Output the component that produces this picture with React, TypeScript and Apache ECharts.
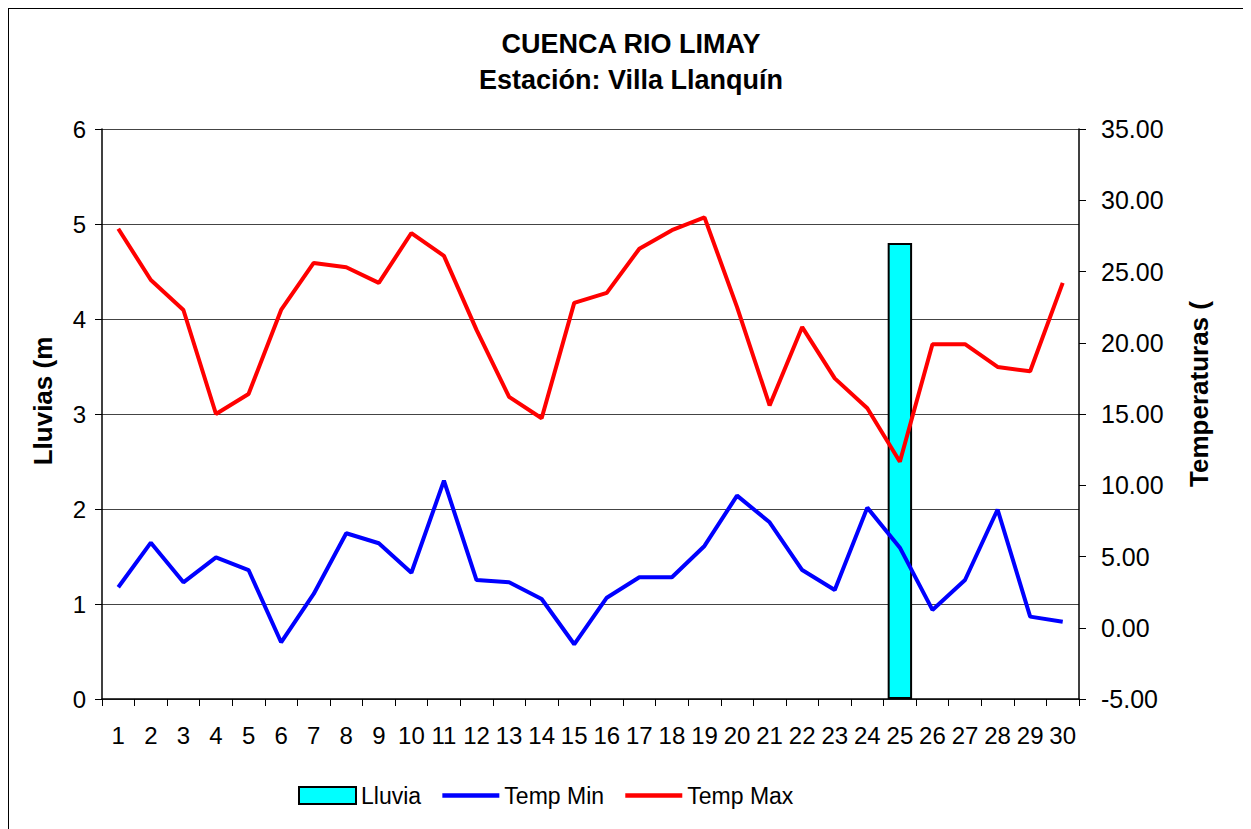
import React, { useEffect, useRef } from "react";
import * as echarts from "echarts";

const days = ["1","2","3","4","5","6","7","8","9","10","11","12","13","14","15","16","17","18","19","20","21","22","23","24","25","26","27","28","29","30"];
const lluvia = [null,null,null,null,null,null,null,null,null,null,null,null,null,null,null,null,null,null,null,null,null,null,null,null,4.8,null,null,null,null,null];
const tempMin = [2.84,5.97,3.19,4.94,4.05,-1.02,2.37,6.63,5.93,3.86,10.32,3.35,3.19,2.02,-1.16,2.11,3.54,3.54,5.74,9.27,7.4,4.05,2.65,8.43,5.62,1.25,3.35,8.3,0.78,0.42];
const tempMax = [28.0,24.4,22.3,15.0,16.4,22.3,25.6,25.3,24.2,27.7,26.1,20.9,16.2,14.7,22.8,23.5,26.6,27.9,28.8,22.5,15.6,21.1,17.5,15.4,11.65,19.9,19.9,18.3,18.0,24.2];
const leftTicks = { min: 0, max: 6, interval: 1 };
const rightTicks = { min: -5, max: 35, interval: 5 };

const FONT = "'Liberation Sans', Arial, sans-serif";

export default function App() {
  const ref = useRef<HTMLDivElement>(null);
  useEffect(() => {
    if (!ref.current) return;
    const chart = echarts.init(ref.current, undefined, { renderer: "svg" });
    chart.setOption({
      animation: false,
      backgroundColor: "#ffffff",
      textStyle: { fontFamily: FONT },
      grid: { left: 94, right: 172, top: 121, bottom: 130, containLabel: false },
      graphic: [
        { type: "line", shape: { x1: 0, y1: 0, x2: 1243, y2: 0 }, style: { stroke: "#000", lineWidth: 2 } },
        { type: "line", shape: { x1: 0, y1: 0, x2: 0, y2: 821 }, style: { stroke: "#000", lineWidth: 2 } },
        { type: "text", x: 623, y: 36, style: { text: "CUENCA RIO LIMAY", font: `bold 27px ${FONT}`, fill: "#000", textAlign: "center", textVerticalAlign: "middle" } },
        { type: "text", x: 623, y: 72, style: { text: "Estación: Villa Llanquín", font: `bold 27px ${FONT}`, fill: "#000", textAlign: "center", textVerticalAlign: "middle" } },
        { type: "text", x: 35, y: 393, rotation: Math.PI / 2, style: { text: "Lluvias (m", font: `bold 26px ${FONT}`, fill: "#000", textAlign: "center", textVerticalAlign: "middle" } },
        { type: "text", x: 1191, y: 386, rotation: Math.PI / 2, style: { text: "Temperaturas (", font: `bold 26px ${FONT}`, fill: "#000", textAlign: "center", textVerticalAlign: "middle" } },
      ],
      legend: {
        left: 290,
        top: 776,
        padding: 0,
        itemWidth: 57,
        itemHeight: 17,
        itemGap: 19,
        textStyle: { fontSize: 23, color: "#000", fontFamily: FONT },
        data: [
          { name: "Lluvia", icon: "rect", itemStyle: { color: "#00FFFF", borderColor: "#000", borderWidth: 2 } },
          { name: "Temp Min", itemStyle: { opacity: 0 }, lineStyle: { width: 4.5, color: "#0000FF" } },
          { name: "Temp Max", itemStyle: { opacity: 0 }, lineStyle: { width: 4.5, color: "#FF0000" } },
        ],
      },
      xAxis: {
        type: "category",
        data: days,
        boundaryGap: true,
        axisLine: { lineStyle: { color: "#000", width: 1.5 } },
        axisTick: { show: true, length: 7, lineStyle: { color: "#000" } },
        axisLabel: { interval: 0, fontSize: 24, color: "#000", margin: 24, fontFamily: FONT },
      },
      yAxis: [
        {
          type: "value",
          min: leftTicks.min,
          max: leftTicks.max,
          interval: leftTicks.interval,
          position: "left",
          axisLine: { show: true, lineStyle: { color: "#000", width: 1.5 } },
          axisTick: { show: true, length: 7, lineStyle: { color: "#000" } },
          axisLabel: { fontSize: 24, color: "#000", margin: 16, fontFamily: FONT },
          splitLine: { show: true, lineStyle: { color: "#444", width: 1.2 } },
        },
        {
          type: "value",
          min: rightTicks.min,
          max: rightTicks.max,
          interval: rightTicks.interval,
          position: "right",
          axisLine: { show: true, lineStyle: { color: "#000", width: 1.5 } },
          axisTick: { show: true, length: 7, lineStyle: { color: "#000" } },
          axisLabel: { fontSize: 25, color: "#000", margin: 22, fontFamily: FONT, formatter: (v: number) => v.toFixed(2) },
          splitLine: { show: false },
        },
      ],
      series: [
        {
          name: "Lluvia",
          type: "bar",
          yAxisIndex: 0,
          data: lluvia,
          barWidth: "75%",
          itemStyle: { color: "#00FFFF", borderColor: "#000", borderWidth: 2 },
        },
        {
          name: "Temp Min",
          type: "line",
          yAxisIndex: 1,
          data: tempMin,
          symbol: "none",
          lineStyle: { color: "#0000FF", width: 4 },
          itemStyle: { color: "#0000FF" },
        },
        {
          name: "Temp Max",
          type: "line",
          yAxisIndex: 1,
          data: tempMax,
          symbol: "none",
          lineStyle: { color: "#FF0000", width: 4 },
          itemStyle: { color: "#FF0000" },
        },
      ],
    });
    return () => chart.dispose();
  }, []);
  return <div ref={ref} style={{ width: 1243, height: 821 }} />;
}
